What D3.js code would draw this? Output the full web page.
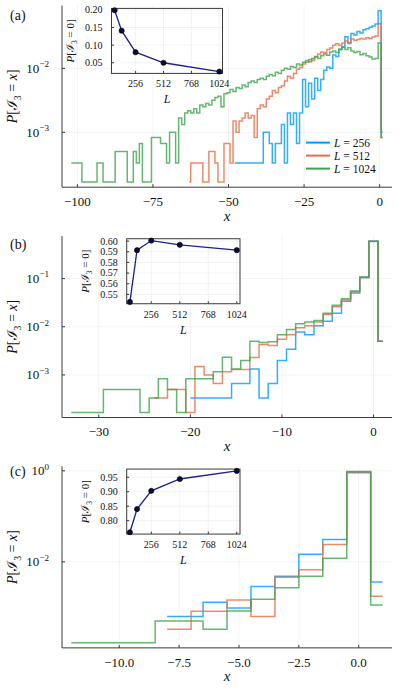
<!DOCTYPE html>
<html><head><meta charset="utf-8">
<script src="https://cdn.jsdelivr.net/npm/d3@7"></script>
<style>
body{margin:0;background:#fff}
text{font-family:"Liberation Serif","DejaVu Serif",serif;fill:#111}
</style></head>
<body><svg id="fig" width="399" height="691"></svg>
<script>
// ---------------- DATA ----------------
const seriesNames = ["256", "512", "1024"];
const seriesColors = ["#009AFA", "#E36F47", "#3EA44E"];
const panelLabels = ["(a)", "(b)", "(c)"];

// Panel (a)
const aBlueX = d3.range(-48, 2);
const aBlueP = [0.000333,0.000333,0.000333,0.000333,0.000333,0.000333,0.000333,0.000333,0.000333,0.000333,
  0.001,0.001,0.000667,0.000333,0.000667,0.000667,0.00133,0.000333,0.002,0.00133,0.002,0.000667,0.002,
  0.00667,0.0025,0.00583,0.00333,0.007,0.0045,0.00667,0.00933,0.0105,0.01,0.0162,0.0153,0.0195,0.0217,
  0.0312,0.0245,0.0352,0.0333,0.0375,0.0358,0.04,0.0417,0.0437,0.0458,0.0492,0.0795,0.001];
const aRedX = d3.range(-63, 2);
const aRedP = [0.000167,0.000333,0.000333,0.000333,0.000333,0.000167,0.000167,0.0005,0.0005,0.000333,
  0.000167,0.000167,0.000667,0.000667,0.000333,
  0.0015,0.001,0.0015,0.00167, 0.002,0.00167,0.00183,0.000833, 0.00233,0.00267,0.0025,0.00333,
  0.00367,0.0045,0.00417,0.005, 0.00533,0.00633,0.0075,0.007, 0.00833,0.00967,0.0103,0.0117,
  0.0125,0.0137,0.0133,0.0153, 0.0167,0.018,0.0175,0.0197, 0.0208,0.023,0.0242,0.023,
  0.025,0.0267,0.0253,0.0287, 0.0275,0.0283,0.0293,0.0287, 0.03,0.0293,0.0308,0.032,
  0.0498,0.000833];
const aGreenX = d3.range(-102, 2);
const aGreenP = [0.000333,0.000333,0.000333,0.000333, 0.000167,0.000167,0.000167,0.000167,0.000167,
  0.000333,0.000333, 0.000167,0.000167,0.000167,0.000167, 0.0005,0.0005,0.0005,0.0005,
  0.000167,0.000167, 0.0005, 0.000333, 0.000667, 0.000167,0.000167,0.000167,
  0.000833,0.000833,0.000833, 0.000667,0.000667, 0.000333, 0.001,0.001, 0.000333, 0.00167, 0.00133,
  0.002,0.00217,0.002,0.00233,0.002,
  0.00267,0.0025,0.00283,0.00267, 0.00317,0.0035,0.00367,0.0025, 0.004,0.00417,0.00467,0.00433,
  0.005,0.00483,0.0055,0.00517, 0.006,0.00633,0.006,0.00667, 0.007,0.00667,0.0075,0.008,
  0.00767,0.00867,0.00833,0.00933, 0.01,0.00967,0.0107,0.0103, 0.0117,0.0113,0.0125,0.0133,
  0.0127,0.0142,0.015,0.0143, 0.0158,0.0167,0.016,0.018, 0.0187,0.0177,0.02,0.0213,
  0.0197,0.021,0.0187,0.0177, 0.0183,0.0163,0.017,0.0157, 0.015,0.014,0.0143, 0.025,0.000833];
const aXTicks = [-100, -75, -50, -25, 0];
const aYTicks = [1e-3, 1e-2];

// Panel (b)
const bBlueX = d3.range(-20, 2);
const bBlueP = [0.000333,0.000333,0.000333,0.000333,0.000333,0.000667,0.000667,0.00133,0.000333,0.000667,
  0.002,0.0034,0.0078,0.0068,0.0105,0.013,0.019,0.034,0.05,0.105,0.6005,0.005];
const bRedX = d3.range(-24, 2);
const bRedP = [0.000333,0.000333,0.0005,0.0005,0.000167,0.0015,0.001,0.000667,0.00117,0.0013,0.0013,
  0.0023,0.0043,0.0041,0.0055,0.0068,0.0095,0.0105,0.0125,0.018,0.026,0.036,0.053,0.105,0.5965,0.005];
const bGreenX = d3.range(-33, 2);
const bGreenP = [0.000167,0.000167,0.000167,0.000167,0.0005,0.0005,0.0005,0.0005,0.000167,0.000333,
  0.000833,0.0005,0.000167,0.000833,0.000833,0.000833,0.00117,0.00233,0.00133,0.002,0.005,0.0047,
  0.0049,0.0068,0.0088,0.0115,0.0125,0.0135,0.019,0.028,0.038,0.055,0.108,0.5915,0.005];
const bXTicks = [-30, -20, -10, 0];
const bYTicks = [1e-3, 1e-2, 1e-1];

// Panel (c)
const cBlueX = [-8,-7,-6,-5,-4,-3,-2,-1,0,1];
const cBlueP = [0.00063,0.00063,0.00129,0.00097,0.00286,0.0048,0.0146,0.031,0.903,0.0036];
const cRedX = [-8,-6,-5,-4,-3,-2,-1,0,1];
const cRedP = [0.00033,0.00082,0.00146,0.00063,0.0046,0.0067,0.024,0.944,0.00175];
const cGreenX = [-12,-11,-10,-9,-8,-7,-6,-5,-4,-3,-2,-1,0,1];
const cGreenP = [0.000167,0.000167,0.000167,0.000167,0.0005,0.0005,0.00033,0.00083,0.0015,0.0027,0.0048,0.012,0.972,0.00113];
const cXTicks = [-10, -7.5, -5, -2.5, 0];
const cYTicks = [1e-2, 1e0];

// Insets: P[I3 = 0] versus L
const insetL = [64, 128, 256, 512, 1024];
const insetLTicks = [256, 512, 768, 1024];
const aInsetP = [0.199, 0.141, 0.080, 0.050, 0.025];
const bInsetP = [0.543, 0.5915, 0.6005, 0.5965, 0.5915];
const cInsetP = [0.760, 0.840, 0.903, 0.944, 0.972];
const aInsetTicks = [0.05, 0.10, 0.15, 0.20];
const bInsetTicks = [0.55, 0.56, 0.57, 0.58, 0.59, 0.60];
const cInsetTicks = [0.80, 0.85, 0.90, 0.95];

// ---------------- DRAWING ----------------
const svg = d3.select("#fig");
const PANEL_H = 691 / 3;
const PL = 62, PR = 392, PT = 5.6, PB = 187.2;
const AXC = "#3a3a3a";

function rich(text, parts, base) {
  let off = 0;
  parts.forEach(p => {
    const ts = text.append("tspan").text(p.t);
    const target = p.sub ? 0.3 * base : p.sup ? -0.42 * base : 0;
    if (target !== off) { ts.attr("dy", target - off); off = target; }
    if (p.sub || p.sup) ts.attr("font-size", base * 0.7);
    if (p.i) ts.attr("font-style", "italic");
    if (p.f) ts.attr("font-family", p.f);
  });
}
const probLabel = (v) => [{t:"P", i:1},{t:"["},{t:"ℐ", f:"DejaVu Serif"},{t:"3", sub:1},{t:" = "},{t:v, i:v==="x"},{t:"]"}];

const panels = [
  {series:[[aBlueX,aBlueP],[aRedX,aRedP],[aGreenX,aGreenP]], xTicks:aXTicks, yTicks:aYTicks, fmt:d3.format("d"),
   inset:{P:aInsetP, ticks:aInsetTicks, left:111.5, right:222.5}, labelY:20, legend:true},
  {series:[[bBlueX,bBlueP],[bRedX,bRedP],[bGreenX,bGreenP]], xTicks:bXTicks, yTicks:bYTicks, fmt:d3.format("d"),
   inset:{P:bInsetP, ticks:bInsetTicks, left:126.7, right:240}, labelY:18.7},
  {series:[[cBlueX,cBlueP],[cRedX,cRedP],[cGreenX,cGreenP]], xTicks:cXTicks, yTicks:cYTicks, fmt:d3.format(".1f"),
   inset:{P:cInsetP, ticks:cInsetTicks, left:126.7, right:240}, labelY:15}
];

panels.forEach((cfg, idx) => {
  const g = svg.append("g").attr("transform", `translate(0,${idx * PANEL_H})`);
  const xs = cfg.series.flatMap(s => s[0]), ps = cfg.series.flatMap(s => s[1]);
  const [xmin, xmax] = d3.extent(xs), xr = xmax - xmin;
  const x = d3.scaleLinear().domain([xmin - 0.03 * xr, xmax + 0.03 * xr]).range([PL, PR]);
  const lmin = Math.log10(d3.min(ps)), lmax = Math.log10(d3.max(ps)), lr = lmax - lmin;
  const y = d3.scaleLog().domain([10 ** (lmin - 0.03 * lr), 10 ** (lmax + 0.03 * lr)]).range([PB, PT]);

  // grid
  g.selectAll(null).data(cfg.xTicks).join("line")
    .attr("x1", d => x(d)).attr("x2", d => x(d)).attr("y1", PT).attr("y2", PB)
    .attr("stroke", "#000").attr("stroke-opacity", 0.1).attr("stroke-width", 0.5);
  g.selectAll(null).data(cfg.yTicks).join("line")
    .attr("y1", d => y(d)).attr("y2", d => y(d)).attr("x1", PL).attr("x2", PR)
    .attr("stroke", "#000").attr("stroke-opacity", 0.1).attr("stroke-width", 0.5);

  // series
  const line = d3.line().x(d => x(d[0])).y(d => y(d[1])).curve(d3.curveStep);
  cfg.series.forEach((s, i) => {
    g.append("path").attr("d", line(d3.zip(s[0], s[1])))
      .attr("fill", "none").attr("stroke", seriesColors[i]).attr("stroke-width", 1.5)
      .attr("stroke-opacity", 0.8).attr("stroke-linejoin", "miter");
  });

  // spines
  g.append("line").attr("x1", PL).attr("x2", PL).attr("y1", PT).attr("y2", PB).attr("stroke", AXC).attr("stroke-width", 1);
  g.append("line").attr("x1", PL).attr("x2", PR).attr("y1", PB).attr("y2", PB).attr("stroke", AXC).attr("stroke-width", 1);
  // ticks inward
  g.selectAll(null).data(cfg.xTicks).join("line")
    .attr("x1", d => x(d)).attr("x2", d => x(d)).attr("y1", PB).attr("y2", PB - 3).attr("stroke", AXC);
  g.selectAll(null).data(cfg.yTicks).join("line")
    .attr("y1", d => y(d)).attr("y2", d => y(d)).attr("x1", PL).attr("x2", PL + 3).attr("stroke", AXC);
  // tick labels
  g.selectAll(null).data(cfg.xTicks).join("text")
    .attr("x", d => x(d)).attr("y", PB + 18.7).attr("text-anchor", "middle")
    .attr("font-size", 13).text(d => cfg.fmt(d));
  cfg.yTicks.forEach(d => {
    const t = g.append("text").attr("x", PL - 13).attr("y", y(d) + 4.3).attr("text-anchor", "end").attr("font-size", 13);
    rich(t, [{t:"10"}, {t: d3.format("d")(Math.round(Math.log10(d))), sup:1}], 13);
  });
  // axis labels
  g.append("text").attr("x", (PL + PR) / 2).attr("y", PB + 33.5).attr("text-anchor", "middle")
    .attr("font-size", 15).attr("font-style", "italic").text("x");
  const yl = g.append("text").attr("transform", `translate(17,${(PT + PB) / 2}) rotate(-90)`)
    .attr("text-anchor", "middle").attr("font-size", 14);
  rich(yl, probLabel("x"), 14);
  // panel label
  g.append("text").attr("x", 10).attr("y", cfg.labelY).attr("font-size", 14).text(panelLabels[idx]);

  // legend
  if (cfg.legend) {
    const rows = [142.6, 155.6, 168.6];
    seriesNames.forEach((nm, i) => {
      g.append("line").attr("x1", 306).attr("x2", 330).attr("y1", rows[i]).attr("y2", rows[i])
        .attr("stroke", seriesColors[i]).attr("stroke-width", 2);
      const t = g.append("text").attr("x", 334).attr("y", rows[i] + 4).attr("font-size", 11.5);
      rich(t, [{t:"L", i:1}, {t:" = " + nm}], 11.5);
    });
  }

  // inset
  const ins = cfg.inset;
  const it = 8.4, ib = it + 65;
  const lx = d3.extent(insetL), lxr = lx[1] - lx[0];
  const xi = d3.scaleLinear().domain([lx[0] - 0.03 * lxr, lx[1] + 0.03 * lxr]).range([ins.left, ins.right]);
  const py = d3.extent(ins.P), pyr = py[1] - py[0];
  const yi = d3.scaleLinear().domain([py[0] - 0.03 * pyr, py[1] + 0.03 * pyr]).range([ib, it]);
  const gi = g.append("g");
  gi.append("rect").attr("x", ins.left).attr("y", it).attr("width", ins.right - ins.left).attr("height", ib - it)
    .attr("fill", "#fff");
  gi.selectAll(null).data(insetLTicks).join("line")
    .attr("x1", d => xi(d)).attr("x2", d => xi(d)).attr("y1", it).attr("y2", ib)
    .attr("stroke", "#000").attr("stroke-opacity", 0.1).attr("stroke-width", 0.5);
  gi.selectAll(null).data(ins.ticks).join("line")
    .attr("y1", d => yi(d)).attr("y2", d => yi(d)).attr("x1", ins.left).attr("x2", ins.right)
    .attr("stroke", "#000").attr("stroke-opacity", 0.1).attr("stroke-width", 0.5);
  gi.selectAll(null).data(insetLTicks).join("line")
    .attr("x1", d => xi(d)).attr("x2", d => xi(d)).attr("y1", ib).attr("y2", ib - 2.5).attr("stroke", AXC);
  gi.selectAll(null).data(ins.ticks).join("line")
    .attr("y1", d => yi(d)).attr("y2", d => yi(d)).attr("x1", ins.left).attr("x2", ins.left + 2.5).attr("stroke", AXC);
  gi.append("rect").attr("x", ins.left).attr("y", it).attr("width", ins.right - ins.left).attr("height", ib - it)
    .attr("fill", "none").attr("stroke", AXC).attr("stroke-width", 1);
  gi.selectAll(null).data(insetLTicks).join("text")
    .attr("x", d => xi(d)).attr("y", ib + 14).attr("text-anchor", "middle").attr("font-size", 10)
    .text(d => d);
  gi.selectAll(null).data(ins.ticks).join("text")
    .attr("x", ins.left - 9).attr("y", d => yi(d) + 3.4).attr("text-anchor", "end").attr("font-size", 10)
    .text(d => d3.format(".2f")(d));
  const ilp = d3.zip(insetL, ins.P);
  gi.append("path").attr("d", d3.line().x(d => xi(d[0])).y(d => yi(d[1]))(ilp))
    .attr("fill", "none").attr("stroke", "#1d1d96").attr("stroke-width", 1.3);
  gi.selectAll(null).data(ilp).join("circle")
    .attr("cx", d => xi(d[0])).attr("cy", d => yi(d[1])).attr("r", 2.6)
    .attr("fill", "#0c0c3a").attr("stroke", "#000").attr("stroke-width", 0.6);
  gi.append("text").attr("x", (ins.left + ins.right) / 2).attr("y", ib + 30).attr("text-anchor", "middle")
    .attr("font-size", 12).attr("font-style", "italic").text("L");
  const iyl = gi.append("text").attr("transform", `translate(${ins.left - 38},${(it + ib) / 2}) rotate(-90)`)
    .attr("text-anchor", "middle").attr("font-size", 11);
  rich(iyl, probLabel("0"), 11);
});
</script>
</body></html>
